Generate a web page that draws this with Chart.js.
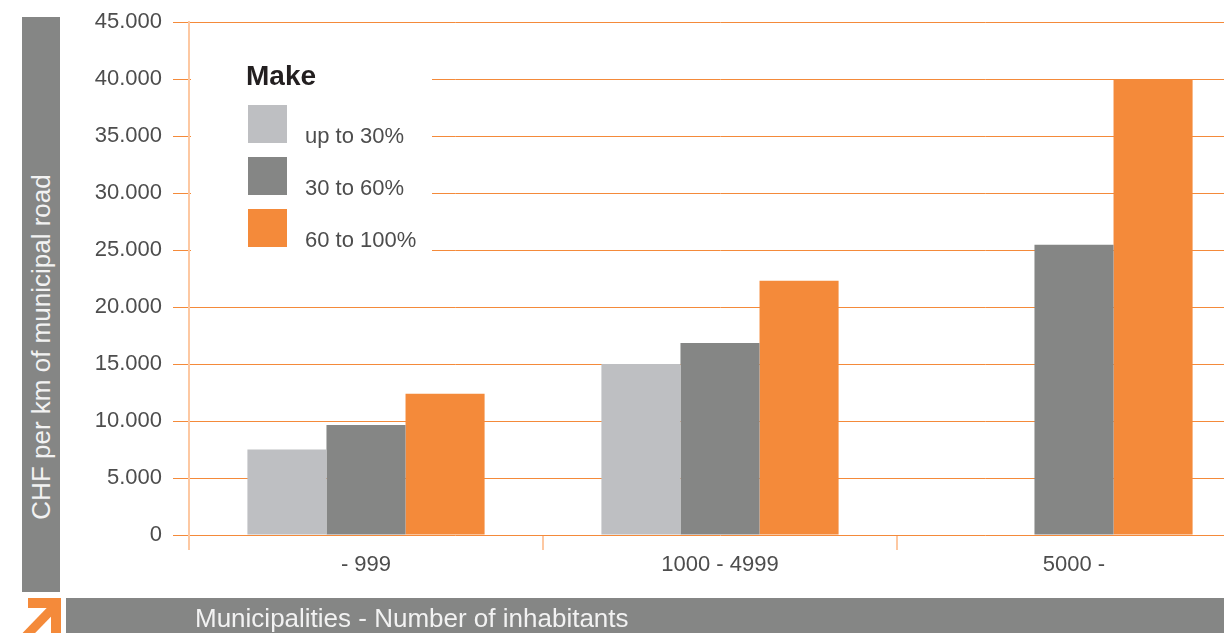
<!DOCTYPE html>
<html>
<head>
<meta charset="utf-8">
<script src="https://cdn.jsdelivr.net/npm/chart.js@4/dist/chart.umd.min.js"></script>
<style>
html,body{margin:0;padding:0;background:#fff;overflow:hidden;width:1224px;height:633px;}
#wrap{position:absolute;left:0;top:0;width:1251px;height:600px;}
.box{position:absolute;background:#858685;}
#ybox{left:22px;top:17px;width:38px;height:575px;}
#ylab{position:absolute;left:41px;top:347px;transform:translate(-50%,-50%) rotate(-90deg);white-space:nowrap;color:#f2f2f2;font:26px "Liberation Sans",Arial,sans-serif;}
#xbox{left:66px;top:598px;width:1158px;height:35px;}
#xlab{position:absolute;left:195px;top:618px;transform:translateY(-50%);white-space:nowrap;color:#f2f2f2;font:26px "Liberation Sans",Arial,sans-serif;}
#arrow{position:absolute;left:22px;top:598px;width:39px;height:35px;}
</style>
</head>
<body>
<div id="wrap"><canvas id="c"></canvas></div>
<div class="box" id="ybox"></div>
<div id="ylab">CHF per km of municipal road</div>
<div class="box" id="xbox"></div>
<div id="xlab">Municipalities - Number of inhabitants</div>
<svg id="arrow" viewBox="0 0 39 35">
  <line x1="4" y1="38" x2="32" y2="9" stroke="#f48a3a" stroke-width="9"/>
  <polyline points="6,5 34,5 34,35" fill="none" stroke="#f48a3a" stroke-width="10" stroke-linejoin="miter"/>
</svg>
<script>
// values (CHF per km)
const categories = ["- 999", "1000 - 4999", "5000 -"];
const seriesNames = ["up to 30%", "30 to 60%", "60 to 100%"];
const upTo30 = [7500, 15000, null];
const from30to60 = [9650, 16850, 25450];
const from60to100 = [12400, 22300, 40000];
const yMax = 45000, yStep = 5000;

const colors = ["#bebfc2", "#858685", "#f48a3a"];
const FONT = '"Liberation Sans", Arial, sans-serif';

function fmt(v){ return String(v).replace(/\B(?=(\d{3})+(?!\d))/g, "."); }

// white legend box drawn over the gridlines, inside the plot
const legendBox = {
  id: "legendBox",
  beforeDatasetsDraw(chart){
    const ctx = chart.ctx;
    ctx.save();
    ctx.fillStyle = "#fff";
    ctx.fillRect(191, 50, 241, 214);
    ctx.fillStyle = "#231f20";
    ctx.font = "bold 28px " + FONT;
    ctx.textBaseline = "middle";
    ctx.fillText("Make", 246, 77);
    chart.data.datasets.forEach((ds, i) => {
      const y = 105 + i * 52;
      ctx.fillStyle = ds.backgroundColor;
      ctx.fillRect(248, y, 39, 38);
      ctx.fillStyle = "#4d4d4d";
      ctx.font = "22px " + FONT;
      ctx.textBaseline = "alphabetic";
      ctx.fillText(ds.label, 305, y + 38);
    });
    ctx.restore();
  }
};

new Chart(document.getElementById("c"), {
  type: "bar",
  data: {
    labels: categories,
    datasets: [
      {label: seriesNames[0], data: upTo30, backgroundColor: colors[0]},
      {label: seriesNames[1], data: from30to60, backgroundColor: colors[1]},
      {label: seriesNames[2], data: from60to100, backgroundColor: colors[2]}
    ]
  },
  options: {
    responsive: true, maintainAspectRatio: false, animation: false,
    layout: {padding: {top: 22, left: 0, right: 0, bottom: 0}},
    datasets: {bar: {categoryPercentage: 0.67, barPercentage: 1, borderWidth: 0}},
    plugins: {legend: {display: false}, tooltip: {enabled: false}},
    scales: {
      x: {
        offset: true,
        grid: {offset: true, drawOnChartArea: false, drawTicks: true, tickLength: 15, color: "#fdc8a2", lineWidth: 2},
        border: {display: false},
        ticks: {color: "#4d4d4d", font: {family: FONT, size: 22}, padding: 2, maxRotation: 0},
        afterFit(s){ s.height = 65; }
      },
      y: {
        min: 0, max: yMax,
        grid: {color: "#f48a3a", lineWidth: 1, tickLength: 16},
        border: {display: true, color: "#fdc8a2", width: 2},
        ticks: {stepSize: yStep, color: "#4d4d4d", font: {family: FONT, size: 22}, padding: 11,
          callback: v => fmt(v)},
        afterFit(s){ s.width = 189; s.paddingTop = 0; s.paddingBottom = 0; }
      }
    }
  },
  plugins: [legendBox]
});
</script>
</body>
</html>
